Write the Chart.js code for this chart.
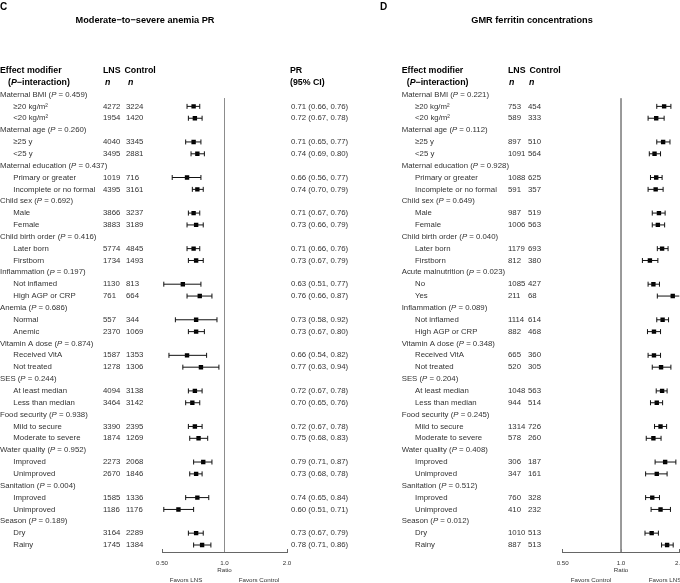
<!DOCTYPE html>
<html><head><meta charset="utf-8">
<script src="https://cdn.jsdelivr.net/npm/chart.js@4.4.0/dist/chart.umd.min.js"></script>
<style>
html,body{margin:0;padding:0;background:#fff;overflow:hidden;width:680px;height:583px;}
#wrap{position:relative;width:680px;height:583px;overflow:hidden;background:#fff;}
canvas{position:absolute;top:0;}
#cC{left:0;}
#cD{left:340px;}
</style></head><body>
<div id="wrap"><canvas id="cC" width="370" height="583"></canvas><canvas id="cD" width="360" height="583"></canvas></div>
<script>
// ---------- Panel C: Moderate-to-severe anemia PR ----------
const groupsC = ['Maternal BMI','Maternal age','Maternal education','Child sex','Child birth order','Inflammation','Anemia','Vitamin A dose','SES','Food security','Water quality','Sanitation','Season'];
const pC = ['0.459','0.260','0.437','0.692','0.416','0.197','0.686','0.874','0.244','0.938','0.952','0.004','0.189'];
const catsC = ['≥20 kg/m²','<20 kg/m²','≥25 y','<25 y','Primary or greater','Incomplete or no formal','Male','Female','Later born','Firstborn','Not inflamed','High AGP or CRP','Normal','Anemic','Received VitA','Not treated','At least median','Less than median','Mild to secure','Moderate to severe','Improved','Unimproved','Improved','Unimproved','Dry','Rainy'];
const lnsC = [4272,1954,4040,3495,1019,4395,3866,3883,5774,1734,1130,761,557,2370,1587,1278,4094,3464,3390,1874,2273,2670,1585,1186,3164,1745];
const ctrlC = [3224,1420,3345,2881,716,3161,3237,3189,4845,1493,813,664,344,1069,1353,1306,3138,3142,2395,1269,2068,1846,1336,1176,2289,1384];
const estC = [0.71,0.72,0.71,0.74,0.66,0.74,0.71,0.73,0.71,0.73,0.63,0.76,0.73,0.73,0.66,0.77,0.72,0.70,0.72,0.75,0.79,0.73,0.74,0.60,0.73,0.78];
const loC = [0.66,0.67,0.65,0.69,0.56,0.70,0.67,0.66,0.66,0.67,0.51,0.66,0.58,0.67,0.54,0.63,0.67,0.65,0.67,0.68,0.71,0.68,0.65,0.51,0.67,0.71];
const hiC = [0.76,0.78,0.77,0.80,0.77,0.79,0.76,0.79,0.76,0.79,0.77,0.87,0.92,0.80,0.82,0.94,0.78,0.76,0.78,0.83,0.87,0.78,0.84,0.71,0.79,0.86];

// ---------- Panel D: GMR ferritin concentrations ----------
const groupsD = ['Maternal BMI','Maternal age','Maternal education','Child sex','Child birth order','Acute malnutrition','Inflammation','Vitamin A dose','SES','Food security','Water quality','Sanitation','Season'];
const pD = ['0.221','0.112','0.928','0.649','0.040','0.023','0.089','0.348','0.204','0.245','0.408','0.512','0.012'];
const catsD = ['≥20 kg/m²','<20 kg/m²','≥25 y','<25 y','Primary or greater','Incomplete or no formal','Male','Female','Later born','Firstborn','No','Yes','Not inflamed','High AGP or CRP','Received VitA','Not treated','At least median','Less than median','Mild to secure','Moderate to severe','Improved','Unimproved','Improved','Unimproved','Dry','Rainy'];
const lnsD = [753,589,897,1091,1088,591,987,1006,1179,812,1085,211,1114,882,665,520,1048,944,1314,578,306,347,760,410,1010,887];
const ctrlD = [454,333,510,564,625,357,519,563,693,380,427,68,614,468,360,305,563,514,726,260,187,161,328,232,513,513];
const estD = [1.67,1.52,1.65,1.49,1.52,1.51,1.57,1.55,1.63,1.41,1.47,1.85,1.64,1.48,1.48,1.61,1.63,1.53,1.60,1.47,1.69,1.53,1.45,1.60,1.44,1.73];
const loD = [1.53,1.38,1.53,1.40,1.42,1.38,1.45,1.45,1.54,1.29,1.38,1.54,1.53,1.37,1.38,1.45,1.52,1.42,1.49,1.35,1.50,1.34,1.34,1.43,1.33,1.62];
const hiD = [1.81,1.67,1.79,1.60,1.63,1.65,1.69,1.68,1.75,1.55,1.58,2.22,1.76,1.60,1.60,1.81,1.73,1.64,1.72,1.61,1.92,1.73,1.58,1.80,1.56,1.86];

// ---------- Axis ----------
const tickVals = [0.5, 1, 2];
const tickLabels = ['0.50', '1.0', '2.0'];
const refValue = 1;

const FAM = '"Liberation Sans", Arial, Helvetica, sans-serif';
function F(size, weight, style) { return `${style||''} ${weight||''} ${size}px ${FAM}`.trim(); }
function seg(ctx, x, y, parts) {
  parts.forEach(([t, f]) => { ctx.font = f; ctx.fillText(t, x, y); x += ctx.measureText(t).width; });
}
function rowOf(k) { return 3 * Math.floor(k / 2) + 1 + (k % 2); }
const Y_MIN = -6, Y_MAX = 38.59;

function makePanel(p) {
  const whisk = [], caps = [], pts = [];
  p.cats.forEach((c, k) => {
    const r = rowOf(k);
    whisk.push({x: p.lo[k], y: r}, {x: p.hi[k], y: r});
    caps.push({x: p.lo[k], y: r}, {x: p.hi[k], y: r});
    pts.push({x: p.est[k], y: r});
  });
  const textPlugin = {
    id: 'forestText_' + p.letter,
    afterDraw(chart) {
      const ctx = chart.ctx;
      const y = v => chart.scales.y.getPixelForValue(v);
      ctx.save();
      ctx.textBaseline = 'middle';
      ctx.textAlign = 'left';
      ctx.fillStyle = '#000';
      ctx.font = F(10, 'bold'); ctx.fillText(p.letter, p.letterX, 7);
      ctx.font = F(9.2, 'bold'); ctx.textAlign = 'center'; ctx.fillText(p.title, p.titleX, 20);
      ctx.textAlign = 'left';
      ctx.font = F(8.8, 'bold'); ctx.fillText('Effect modifier', p.xGroup, y(-2));
      seg(ctx, p.xInter, y(-1), [['(', F(8.8, 'bold')], ['P', F(8.8, 'bold', 'italic')], ['−interaction)', F(8.8, 'bold')]]);
      ctx.font = F(8.8, 'bold');
      ctx.fillText('LNS', p.xLNS, y(-2));
      ctx.fillText('Control', p.xCtrlHead, y(-2));
      ctx.font = F(8.8, 'bold', 'italic');
      ctx.fillText('n', p.xNL, y(-1));
      ctx.fillText('n', p.xNC, y(-1));
      if (p.showCI) {
        ctx.font = F(8.8, 'bold');
        ctx.fillText('PR', p.ciHeadX, y(-2));
        ctx.fillText('(95% CI)', p.ciHeadX, y(-1));
      }
      ctx.fillStyle = '#333';
      p.groups.forEach((g, gi) => {
        seg(ctx, p.xGroup, y(3 * gi), [[g + ' (', F(7.8)], ['P', F(7.8, '', 'italic')], [' = ' + p.pvals[gi] + ')', F(7.8)]]);
      });
      p.cats.forEach((c, k) => {
        const r = y(rowOf(k));
        ctx.font = F(7.8);
        ctx.fillText(c, p.xItem, r);
        ctx.fillText(String(p.lns[k]), p.xLNS, r);
        ctx.fillText(String(p.ctrl[k]), p.xCtrl, r);
        if (p.showCI) ctx.fillText(`${p.est[k].toFixed(2)} (${p.lo[k].toFixed(2)}, ${p.hi[k].toFixed(2)})`, p.ciX, r);
      });
      ctx.font = F(6.2); ctx.textAlign = 'center';
      p.favors.forEach(([t, x]) => ctx.fillText(t, x, 580));
      ctx.restore();
    }
  };
  return new Chart(document.getElementById(p.canvas), {
    type: 'scatter',
    data: {
      datasets: [
        { data: [{x: refValue, y: 0.32}, {x: refValue, y: Y_MAX}], showLine: true, borderColor: '#8c8c8c', borderWidth: 1, pointRadius: 0 },
        { data: whisk, showLine: true, borderColor: '#111', borderWidth: 1, pointRadius: 0,
          segment: { borderColor: c => (c.p0.parsed.y === c.p1.parsed.y ? '#111' : 'rgba(0,0,0,0)') } },
        { data: caps, showLine: false, pointStyle: 'line', pointRotation: 90, pointRadius: 2.5, pointBorderWidth: 1, pointBorderColor: '#111', pointBackgroundColor: '#111' },
        { data: pts, showLine: false, pointStyle: 'rect', pointRadius: 3.1, pointBorderWidth: 0, pointBackgroundColor: '#000', pointBorderColor: '#000' }
      ]
    },
    options: {
      responsive: false, animation: false, events: [], devicePixelRatio: 1,
      layout: { padding: { left: p.padL, right: p.padR, top: 23.4, bottom: 0 } },
      plugins: { legend: { display: false }, tooltip: { enabled: false } },
      scales: {
        x: {
          type: 'logarithmic', min: 0.5, max: 2,
          afterBuildTicks: s => { s.ticks = tickVals.map(v => ({ value: v })); },
          afterFit: s => { s.height = 31; },
          ticks: { callback: v => tickLabels[tickVals.indexOf(v)], font: { family: FAM, size: 6.2 }, color: '#333', padding: 10.4, maxRotation: 0, autoSkip: false },
          grid: { drawOnChartArea: false, tickLength: -3, color: '#666' },
          border: { display: true, color: '#666', width: 1 },
          title: { display: true, text: 'Ratio', font: { family: FAM, size: 6.2 }, color: '#333', padding: { top: 0, bottom: 8.9 } }
        },
        y: { type: 'linear', reverse: true, min: Y_MIN, max: Y_MAX, display: false }
      }
    },
    plugins: [textPlugin]
  });
}

makePanel({ canvas: 'cC', letter: 'C', title: 'Moderate−to−severe anemia PR', letterX: 0, titleX: 145,
  xGroup: 0, xItem: 13.3, xInter: 8, xLNS: 103, xCtrlHead: 124.5, xCtrl: 126, xNL: 105, xNC: 128,
  showCI: true, ciX: 291, ciHeadX: 290, favors: [['Favors LNS', 186], ['Favors Control', 259]],
  padL: 162, padR: 83,
  groups: groupsC, pvals: pC, cats: catsC, lns: lnsC, ctrl: ctrlC, est: estC, lo: loC, hi: hiC });

makePanel({ canvas: 'cD', letter: 'D', title: 'GMR ferritin concentrations', letterX: 40, titleX: 192,
  xGroup: 61.7, xItem: 75, xInter: 66.7, xLNS: 168, xCtrlHead: 189.5, xCtrl: 188, xNL: 169, xNC: 189,
  showCI: false, favors: [['Favors Control', 251], ['Favors LNS', 325]],
  padL: 222.7, padR: 20.7,
  groups: groupsD, pvals: pD, cats: catsD, lns: lnsD, ctrl: ctrlD, est: estD, lo: loD, hi: hiD });
</script>
</body></html>
